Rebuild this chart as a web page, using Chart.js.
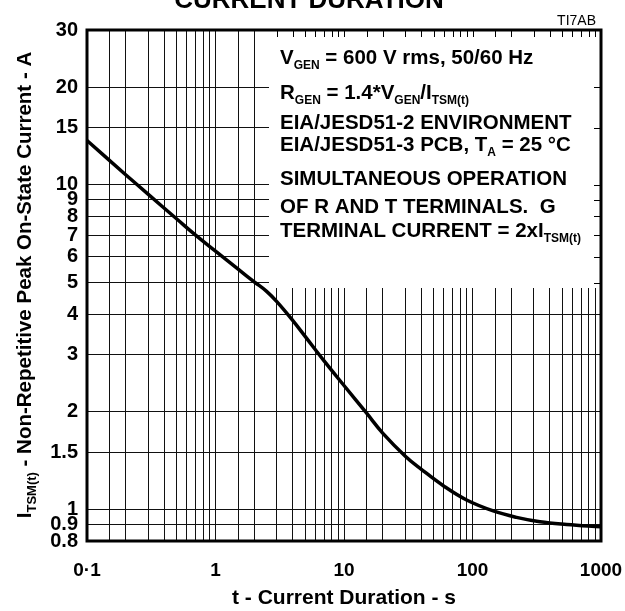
<!DOCTYPE html>
<html>
<head>
<meta charset="utf-8">
<script src="https://cdn.jsdelivr.net/npm/chart.js@4.4.0/dist/chart.umd.min.js"></script>
<style>
  html, body { margin: 0; padding: 0; background: #fff; }
  #wrap { width: 625px; height: 611px; }
</style>
</head>
<body>
<div id="wrap"><canvas id="surgeChart" width="625" height="611"></canvas></div>
<script>
// t - current duration (s)
const durations = [0.1, 0.2, 0.3, 0.5, 0.7, 1, 1.5, 2, 2.5, 3, 4, 5, 7, 10, 15, 20, 30, 40, 60, 90, 145, 220, 335, 540, 1000];
// I_TSM(t) - non-repetitive peak on-state current (A)
const currents = [13.7, 10.75, 9.35, 7.85, 7.0, 6.25, 5.5, 5.03, 4.7, 4.37, 3.82, 3.41, 2.87, 2.41, 1.98, 1.72, 1.46, 1.33, 1.18, 1.07, 0.99, 0.946, 0.917, 0.9, 0.885];

// grid / tick values
const xTicks = [];
[0.1, 1, 10, 100].forEach(d => [1, 1.5, 2, 3, 4, 5, 6, 7, 8, 9].forEach(m => xTicks.push(+(d * m).toPrecision(3))));
xTicks.push(1000);
const xLabels = { 0.1: '0·1', 1: '1', 10: '10', 100: '100', 1000: '1000' };
const yTicks = [0.8, 0.9, 1, 1.5, 2, 3, 4, 5, 6, 7, 8, 9, 10, 15, 20, 30];

const FONT = '"Liberation Sans", Arial, Helvetica, sans-serif';

// note box text, [text, subscript?]
const noteLines = [
  [['V', 0], ['GEN', 1], [' = 600 V rms, 50/60 Hz', 0]],
  [['R', 0], ['GEN', 1], [' = 1.4*V', 0], ['GEN', 1], ['/I', 0], ['TSM(t)', 1]],
  [['EIA/JESD51-2 ENVIRONMENT', 0]],
  [['EIA/JESD51-3 PCB, T', 0], ['A', 1], [' = 25 °C', 0]],
  [['SIMULTANEOUS OPERATION', 0]],
  [['OF R AND T TERMINALS.  G', 0]],
  [['TERMINAL CURRENT = 2xI', 0], ['TSM(t)', 1]]
];
const noteBaselines = [64, 99, 129, 151, 185, 213, 237];

function drawRuns(ctx, runs, x, y, size, subSize, drop) {
  runs.forEach(([txt, sub]) => {
    ctx.font = 'bold ' + (sub ? subSize : size) + 'px ' + FONT;
    ctx.fillText(txt, x, sub ? y + drop : y);
    x += ctx.measureText(txt).width;
  });
  return x;
}

function runsWidth(ctx, runs, size, subSize) {
  let w = 0;
  runs.forEach(([txt, sub]) => {
    ctx.font = 'bold ' + (sub ? subSize : size) + 'px ' + FONT;
    w += ctx.measureText(txt).width;
  });
  return w;
}

const decor = {
  id: 'decor',
  beforeDatasetsDraw(chart) {
    const { ctx, chartArea: a, scales: { x, y } } = chart;
    const boxL = Math.round(x.getPixelForValue(2.6));
    const boxB = Math.round(y.getPixelForValue(4.8));
    ctx.save();
    ctx.fillStyle = '#fff';
    ctx.fillRect(boxL, a.top, a.right - boxL, boxB - a.top);
    // small inner ticks on top and right edge
    ctx.strokeStyle = '#000';
    ctx.lineWidth = 1;
    ctx.beginPath();
    xTicks.forEach(v => {
      const px = Math.round(x.getPixelForValue(v)) + 0.5;
      if (px > boxL && px < a.right - 2) { ctx.moveTo(px, a.top); ctx.lineTo(px, a.top + 7); }
    });
    yTicks.forEach(v => {
      const py = Math.round(y.getPixelForValue(v)) + 0.5;
      if (py < boxB && py > a.top + 2) { ctx.moveTo(a.right - 7, py); ctx.lineTo(a.right, py); }
    });
    ctx.stroke();
    ctx.fillStyle = '#000';
    ctx.textBaseline = 'alphabetic';
    ctx.textAlign = 'left';
    noteLines.forEach((runs, i) => drawRuns(ctx, runs, boxL + 11, noteBaselines[i], 20.5, 12, 5));
    ctx.restore();
  },
  afterDatasetsDraw(chart) {
    const { ctx, chartArea: a } = chart;
    ctx.save();
    ctx.strokeStyle = '#000';
    ctx.lineWidth = 3;
    ctx.strokeRect(a.left, a.top, a.right - a.left, a.bottom - a.top);
    ctx.restore();
  },
  afterDraw(chart) {
    const { ctx } = chart;
    ctx.save();
    ctx.fillStyle = '#000';
    ctx.textAlign = 'center';
    ctx.textBaseline = 'alphabetic';
    ctx.font = 'bold 26px ' + FONT;
    ctx.fillText('CURRENT DURATION', 309, 8);
    ctx.textAlign = 'right';
    ctx.font = '14px ' + FONT;
    ctx.fillText('TI7AB', 596, 25);
    // rotated y title with subscript
    const runs = [['I', 0], ['TSM(t)', 1], [' - Non-Repetitive Peak On-State Current - A', 0]];
    const w = runsWidth(ctx, runs, 20.5, 13);
    ctx.translate(31, 285);
    ctx.rotate(-Math.PI / 2);
    ctx.textAlign = 'left';
    drawRuns(ctx, runs, -w / 2, 0, 20.5, 13, 5);
    ctx.restore();
  }
};

new Chart(document.getElementById('surgeChart'), {
  type: 'line',
  data: {
    datasets: [{
      data: durations.map((t, i) => ({ x: t, y: currents[i] })),
      borderColor: '#000',
      borderWidth: 3.5,
      pointRadius: 0,
      tension: 0.4,
      fill: false
    }]
  },
  options: {
    responsive: false,
    animation: false,
    devicePixelRatio: 1,
    layout: { padding: { top: 30, right: 24, left: 0, bottom: 0 } },
    plugins: { legend: { display: false }, tooltip: { enabled: false } },
    scales: {
      x: {
        type: 'logarithmic',
        min: 0.1,
        max: 1000,
        afterBuildTicks: s => { s.ticks = xTicks.map(v => ({ value: v })); },
        afterFit: s => { s.height = 70; s.paddingLeft = 0; s.paddingRight = 0; },
        grid: { color: '#111', lineWidth: 1, drawTicks: false },
        border: { display: false },
        ticks: {
          autoSkip: false,
          maxRotation: 0,
          padding: 18,
          color: '#000',
          font: { family: FONT, size: 19, weight: 'bold' },
          callback: v => xLabels[v] || ''
        },
        title: {
          display: true,
          text: 't - Current Duration - s',
          color: '#000',
          font: { family: FONT, size: 21, weight: 'bold' },
          padding: { top: 0, bottom: 0 }
        }
      },
      y: {
        type: 'logarithmic',
        min: 0.8,
        max: 30,
        afterBuildTicks: s => { s.ticks = yTicks.map(v => ({ value: v })); },
        afterFit: s => { s.width = 87; s.paddingTop = 0; s.paddingBottom = 0; },
        grid: { color: '#111', lineWidth: 1, drawTicks: false },
        border: { display: false },
        ticks: {
          autoSkip: false,
          padding: 9,
          color: '#000',
          font: { family: FONT, size: 20, weight: 'bold' },
          callback: v => String(v)
        }
      }
    }
  },
  plugins: [decor]
});
</script>
</body>
</html>
